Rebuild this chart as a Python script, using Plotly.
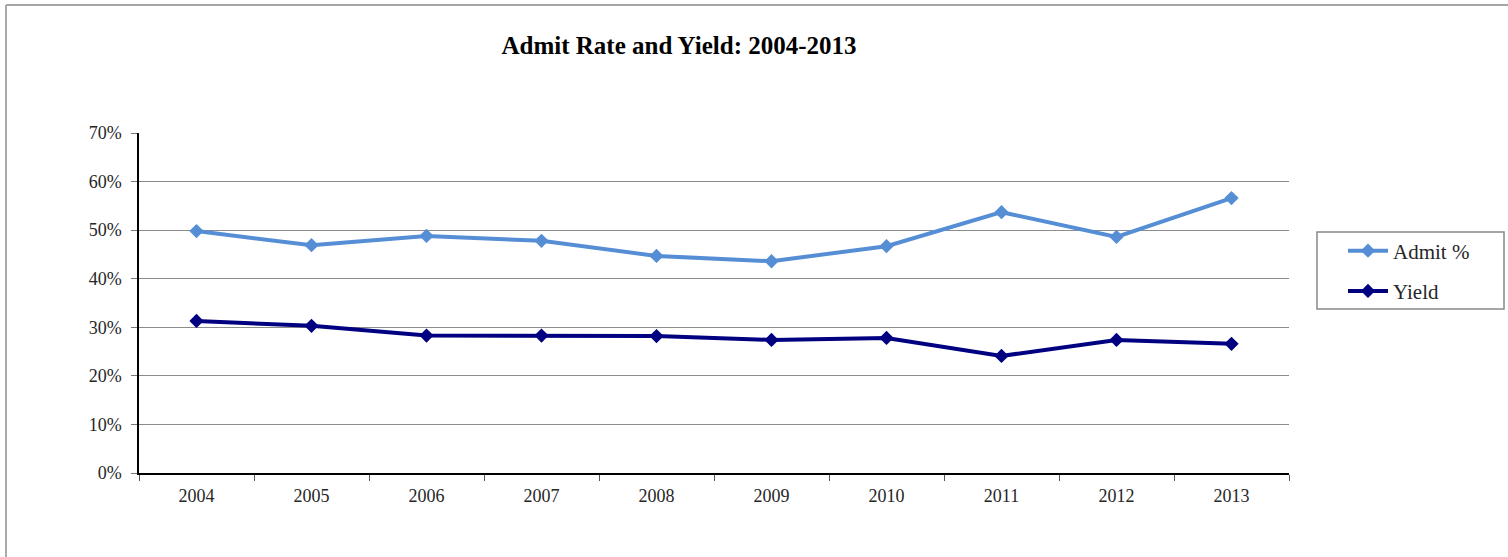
import plotly.graph_objects as go

years = ["2004", "2005", "2006", "2007", "2008", "2009", "2010", "2011", "2012", "2013"]
admit = [0.498, 0.469, 0.488, 0.478, 0.447, 0.436, 0.467, 0.537, 0.486, 0.566]
yield_ = [0.313, 0.303, 0.283, 0.283, 0.282, 0.274, 0.278, 0.241, 0.274, 0.266]
y_ticks = [0, 0.1, 0.2, 0.3, 0.4, 0.5, 0.6, 0.7]

W, H = 1508, 557
L, R, T, B = 139, 1508 - 1289, 133, 557 - 473
pw, ph = W - L - R, H - T - B


def px(x):
    return (x - L) / pw


def py(y):
    return (H - B - y) / ph


FONT = "Liberation Serif, DejaVu Serif, serif"

fig = go.Figure()
fig.add_trace(go.Scatter(x=years, y=admit, name="Admit %", mode="lines+markers",
                         legendgroup="a",
                         line=dict(color="#558ED5", width=4),
                         marker=dict(symbol="diamond", size=11, color="#558ED5")))
fig.add_trace(go.Scatter(x=years, y=yield_, name="Yield", mode="lines+markers",
                         legendgroup="b",
                         line=dict(color="#000080", width=4),
                         marker=dict(symbol="diamond", size=11, color="#000080")))

fig.update_layout(
    width=W, height=H,
    margin=dict(l=L, r=R, t=T, b=B, pad=0),
    paper_bgcolor="white", plot_bgcolor="white",
    font=dict(family=FONT, size=18, color="#262626"),
    title=dict(text="<b>Admit Rate and Yield: 2004-2013</b>", x=px(679), xref="paper",
               xanchor="center", y=1 - 45 / H, yanchor="middle",
               font=dict(family=FONT, size=25, color="#000")),
    showlegend=True,
    legend=dict(x=px(1343), y=py(271), xanchor="left", yanchor="middle",
                borderwidth=0, bgcolor="rgba(0,0,0,0)",
                font=dict(family=FONT, size=21, color="#262626"),
                itemwidth=40, tracegroupgap=10),
    xaxis=dict(type="category", range=[-0.5, 9.5], tickson="boundaries", ticks="outside",
               ticklen=6, tickcolor="#555", showline=True, linecolor="#000", linewidth=1.5,
               showgrid=False, tickfont=dict(size=18), ticklabelstandoff=6,
               fixedrange=True),
    yaxis=dict(range=[0, 0.7], tickvals=y_ticks, tickformat=".0%", ticks="outside",
               ticklen=6, tickcolor="#777", showline=True, linecolor="#000",
               linewidth=1.5, showgrid=True, gridcolor="#8c8c8c", gridwidth=1,
               zeroline=False, tickfont=dict(size=18), ticklabelstandoff=6,
               fixedrange=True),
    shapes=[
        dict(type="rect", xref="paper", yref="paper", x0=px(1317), x1=px(1504),
             y0=py(309), y1=py(232), line=dict(color="#888", width=1.5)),
        dict(type="line", xref="paper", yref="paper", x0=px(6), x1=px(1508), y0=py(5), y1=py(5),
             line=dict(color="#888", width=1.5)),
        dict(type="line", xref="paper", yref="paper", x0=px(6), x1=px(6), y0=py(5), y1=py(557),
             line=dict(color="#aaa", width=2)),
    ],
)

fig.write_html("out.html", config={"displayModeBar": False},
               post_script="document.body.style.margin='0';")
